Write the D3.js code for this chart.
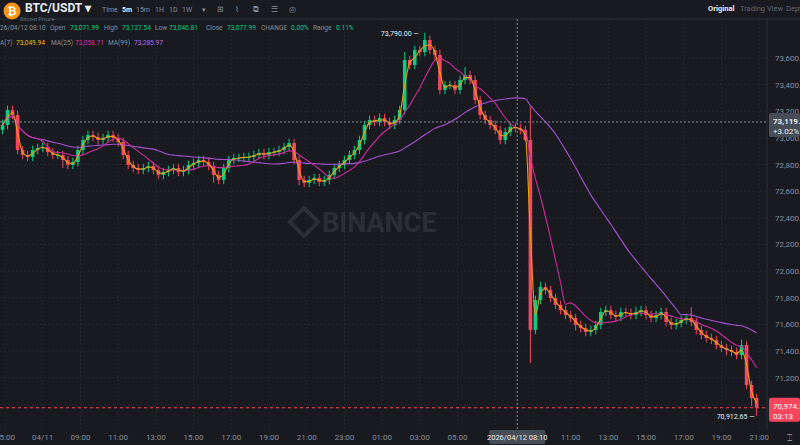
<!DOCTYPE html>
<html><head><meta charset="utf-8">
<script src="https://cdn.jsdelivr.net/npm/d3@7"></script>
<style>body{margin:0;background:#181a20;}svg{display:block;font-family:Roboto,"Liberation Sans",sans-serif;}</style>
</head><body><svg id="c" width="800" height="445"></svg>
<script>
// closes of 16-minute candles, starting 04/11 04:44
const closes = [73097,73210,73172,72909,72872,72857,72909,72924,72932,72894,72872,72872,72834,72797,72819,72909,72984,73022,73007,72984,
72999,73022,72999,72969,72872,72797,72774,72759,72774,72789,72759,72722,72744,72759,72774,72744,72759,72797,72812,72834,
72819,72789,72722,72684,72774,72834,72849,72849,72857,72857,72872,72887,72872,72894,72894,72909,72932,72962,72834,72684,
72662,72684,72699,72669,72684,72722,72774,72797,72834,72872,72909,72984,73097,73135,73120,73150,73120,73097,73135,73210,
73585,73547,73660,73645,73735,73660,73623,73360,73397,73397,73360,73435,73472,73435,73285,73172,73135,73097,73059,72984,
73044,73082,73075,73059,72984,71558,71783,71881,71858,71798,71746,71708,71670,71648,71595,71573,71543,71558,71595,71693,
71708,71670,71655,71693,71686,71670,71693,71708,71670,71648,71670,71693,71618,71595,71610,71633,71648,71618,71558,71520,
71498,71483,71445,71423,71408,71393,71370,71445,71145,71047,70974];
// wick extensions (price units) per candle; notable spikes
const wickHi = {0:40,4:30,80:60,84:55,87:40,92:60,105:250,107:40,126:40,137:80,147:40};
const wickLo = {12:60,42:60,59:40,104:10,105:250,114:40,144:40,149:60,150:60};
const defaultWick = 32;
const firstOpen = 73060;
const startMinute = -16, candleMinutes = 16;
const yTicks = [71000,71200,71400,71600,71800,72000,72200,72400,72600,72800,73000,73200,73400,73600];
const xTickMinutes = [0,120,240,360,480,600,720,840,960,1080,1200,1320,1440,1800,1920,2040,2160,2280,2400];
const xTickLabels = ["05:00","04/11","09:00","11:00","13:00","15:00","17:00","19:00","21:00","23:00","01:00","03:00","05:00","11:00","13:00","15:00","17:00","19:00","21:00"];
const highLabel = "73,790.00", lowLabel = "70,912.65";
const lastPrice = 70974.2, crossPrice = 73119.9, crossMinute = 1630;

const svg = d3.select("#c");
const W=800,H=445, plotR=767, plotT=19, plotB=430;
const x = d3.scaleLinear().domain([-16,2425]).range([0,plotR]);
const y = d3.scaleLinear().domain([71000,73600]).range([404.3,58]);
const green="#0ecb81", red="#f6465d";

const candles = closes.map((c,i)=>{
  const o = i===0?firstOpen:closes[i-1];
  const hi = Math.max(o,c)+(wickHi[i]??defaultWick);
  const lo = Math.min(o,c)-(wickLo[i]??defaultWick);
  return {t:startMinute+i*candleMinutes+8,o,c,hi,lo};
});
function ma(n){return closes.map((_,i)=>{const s=closes.slice(Math.max(0,i-n+1),i+1);return d3.mean(s);});}
const ma7=ma(2), ma25=ma(8), ma99=ma(31);

const g=svg.append("g");
g.selectAll(".hg").data(yTicks).join("line").attr("x1",0).attr("x2",plotR).attr("y1",d=>y(d)).attr("y2",d=>y(d))
 .attr("stroke","#23262d").attr("stroke-dasharray","2,2");
g.selectAll(".vg").data(xTickMinutes.concat([1560,1680])).join("line").attr("x1",d=>x(d)).attr("x2",d=>x(d)).attr("y1",plotT).attr("y2",plotB)
 .attr("stroke","#23262d").attr("stroke-dasharray","2,2");
svg.append("line").attr("x1",0).attr("x2",W).attr("y1",plotT).attr("y2",plotT).attr("stroke","#2b2f36");
svg.append("line").attr("x1",plotR).attr("x2",plotR).attr("y1",plotT).attr("y2",plotB).attr("stroke","#2b2f36");

const wm=svg.append("g").attr("opacity",0.13);
wm.append("rect").attr("x",294).attr("y",212).attr("width",20).attr("height",20).attr("transform","rotate(45 304 222)").attr("fill","none").attr("stroke","#aaa").attr("stroke-width",4);
wm.append("text").attr("x",322).attr("y",232).attr("font-size",27).attr("font-weight",700).attr("fill","#aaa").text("BINANCE");

const cg=svg.append("g");
cg.selectAll("line").data(candles).join("line").attr("x1",d=>x(d.t)).attr("x2",d=>x(d.t))
 .attr("y1",d=>y(d.hi)).attr("y2",d=>y(d.lo)).attr("stroke",d=>d.c>=d.o?green:red).attr("stroke-width",1);
cg.selectAll("rect").data(candles).join("rect").attr("x",d=>x(d.t)-1.8).attr("width",3.6)
 .attr("y",d=>y(Math.max(d.o,d.c))).attr("height",d=>Math.max(1,Math.abs(y(d.o)-y(d.c))))
 .attr("fill",d=>d.c>=d.o?green:red);

const line=d3.line().x((d,i)=>x(candles[i].t)).y(d=>y(d)).curve(d3.curveMonotoneX);
[[ma99,"#a74fd6"],[ma25,"#cf2a9c"],[ma7,"#e8a10f"]].forEach(([d,c])=>svg.append("path").attr("d",line(d)).attr("fill","none").attr("stroke",c).attr("stroke-width",1.1));

svg.append("line").attr("x1",x(crossMinute)).attr("x2",x(crossMinute)).attr("y1",plotT).attr("y2",plotB).attr("stroke","#8a8f98").attr("stroke-dasharray","2,2");
svg.append("line").attr("x1",0).attr("x2",plotR).attr("y1",y(crossPrice)).attr("y2",y(crossPrice)).attr("stroke","#8a8f98").attr("stroke-dasharray","2,2");
svg.append("line").attr("x1",0).attr("x2",plotR).attr("y1",y(lastPrice)).attr("y2",y(lastPrice)).attr("stroke",red).attr("stroke-dasharray","3,3");

svg.selectAll(".yl").data(yTicks).join("text").attr("x",775).attr("y",d=>y(d)+3).attr("font-size",8).attr("fill","#848e9c")
 .text(d=>d3.format(",.2f")(d));
svg.selectAll(".xl").data(xTickMinutes).join("text").attr("x",(d)=>x(d)).attr("y",440).attr("font-size",8).attr("text-anchor","middle").attr("fill","#848e9c")
 .text((d,i)=>xTickLabels[i]);

const hiC=candles.reduce((a,b)=>b.hi>a.hi?b:a), loC=candles.reduce((a,b)=>b.lo<a.lo?b:a);
svg.append("text").attr("x",x(hiC.t)-6).attr("y",y(hiC.hi)+3).attr("text-anchor","end").attr("font-size",7).attr("fill","#eaecef").text(highLabel+" —");
svg.append("text").attr("x",x(loC.t)-2).attr("y",y(loC.lo)+3).attr("text-anchor","end").attr("font-size",7).attr("fill","#eaecef").text(lowLabel+" —");

const yc=y(crossPrice);
svg.append("rect").attr("x",769).attr("y",yc-9).attr("width",31).attr("height",24).attr("rx",2).attr("fill","#474d57");
svg.append("text").attr("x",773).attr("y",yc+2).attr("font-size",8).attr("font-weight",700).attr("fill","#eaecef").text("73,119.9");
svg.append("text").attr("x",773).attr("y",yc+12).attr("font-size",8).attr("fill","#eaecef").text("+3.02%");
const yl=y(lastPrice);
svg.append("rect").attr("x",769).attr("y",yl-10).attr("width",31).attr("height",24).attr("rx",2).attr("fill","#f6465d");
svg.append("text").attr("x",773).attr("y",yl+1).attr("font-size",8).attr("fill","#fff").text("70,974.2");
svg.append("text").attr("x",773).attr("y",yl+11).attr("font-size",8).attr("fill","#fff").text("03:13");
svg.append("rect").attr("x",x(crossMinute)-28).attr("y",430).attr("width",56).attr("height",14).attr("rx",2).attr("fill","#474d57");
svg.append("text").attr("x",x(crossMinute)).attr("y",440).attr("text-anchor","middle").attr("font-size",7.5).attr("fill","#eaecef").text("2026/04/12 08:10");
svg.append("text").attr("x",789).attr("y",441).attr("text-anchor","middle").attr("font-size",9).attr("fill","#848e9c").text("⌶");

svg.append("circle").attr("cx",12).attr("cy",11).attr("r",8.5).attr("fill","#f7931a");
svg.append("text").attr("x",12).attr("y",15).attr("text-anchor","middle").attr("font-size",11).attr("font-weight",700).attr("fill","#fff").text("₿");
svg.append("text").attr("x",25).attr("y",12).attr("font-size",12).attr("font-weight",700).attr("fill","#eaecef").text("BTC/USDT ▾");
svg.append("text").attr("x",20).attr("y",21).attr("font-size",5.5).attr("fill","#5e6673").text("Bitcoin Price ▸");
const tf=[["Time",102,"#848e9c"],["5m",122,"#eaecef"],["15m",136,"#848e9c"],["1H",155,"#848e9c"],["1D",169,"#848e9c"],["1W",182,"#848e9c"],["▾",202,"#848e9c"]];
tf.forEach(([t,xx,c])=>svg.append("text").attr("x",xx).attr("y",12).attr("font-size",7).attr("font-weight",t==="5m"?700:400).attr("fill",c).text(t));
["⊞","⌇","⧉","☰","◎"].forEach((t,i)=>svg.append("text").attr("x",217+i*18).attr("y",12).attr("font-size",8).attr("fill","#848e9c").text(t));
svg.append("text").attr("x",708).attr("y",11).attr("font-size",7.5).attr("font-weight",700).attr("fill","#eaecef").text("Original");
svg.append("text").attr("x",740).attr("y",11).attr("font-size",7.5).attr("fill","#5e6673").text("Trading View");
svg.append("text").attr("x",786).attr("y",11).attr("font-size",7.5).attr("fill","#5e6673").text("Depth");

function row(items,yy){items.forEach(([t,xx,c])=>svg.append("text").attr("x",xx).attr("y",yy).attr("font-size",6.6).attr("fill",c).text(t));}
const gr="#848e9c";
row([["26/04/12 08:10",0,gr],["Open",50,gr],["73,071.99",70,green],["High",104,gr],["73,127.54",122,green],["Low",155,gr],["73,046.81",169,green],
["Close",206,gr],["73,077.99",227,green],["CHANGE",261,gr],["0.00%",291,green],["Range",313,gr],["0.11%",336,green]],30);
row([["A(7)",0,gr],["73,049.94",16,"#f0b90b"],["MA(25)",51,gr],["73,058.71",75,"#d62ea0"],["MA(99)",108,gr],["73,285.97",134,"#b26ee6"]],45);
</script></body></html>
